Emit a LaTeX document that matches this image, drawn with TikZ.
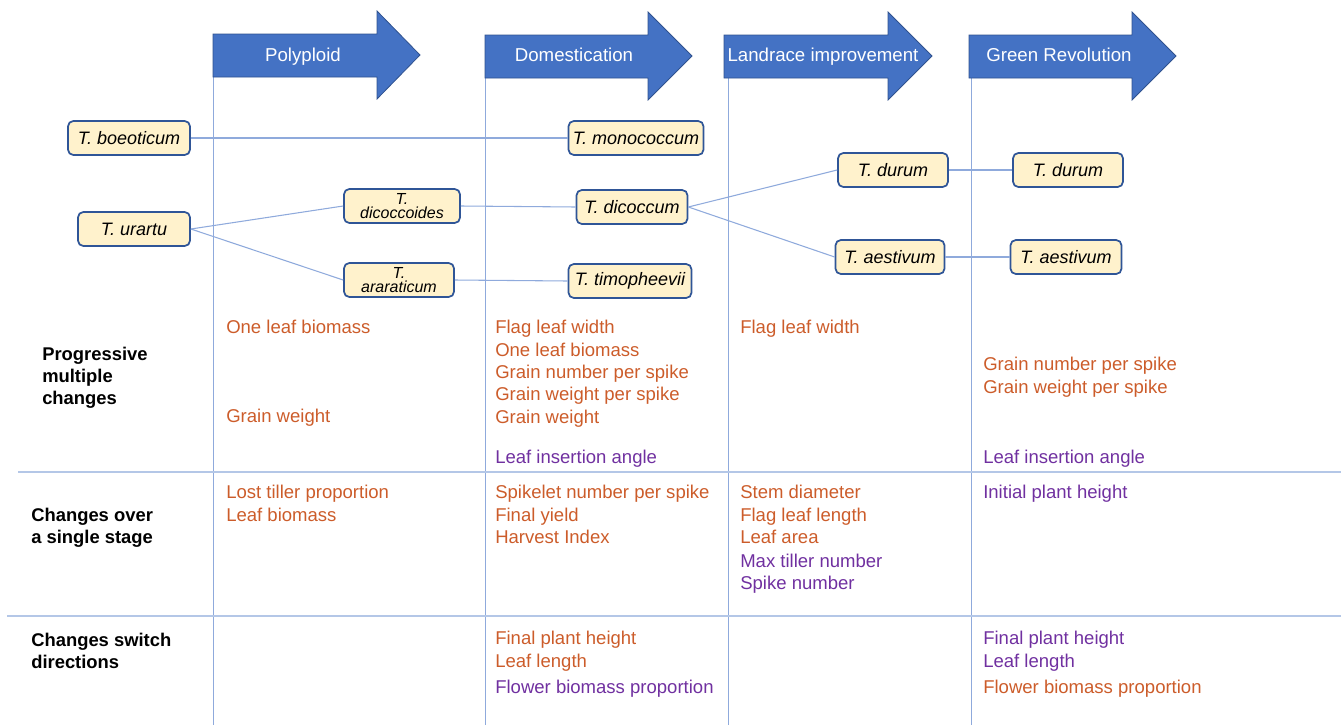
\documentclass[tikz,border=0pt]{standalone}
\usepackage{fontspec}
\setmainfont{Liberation Sans}
\definecolor{stageblue}{RGB}{68,114,196}
\definecolor{stageedge}{RGB}{47,82,143}
\definecolor{boxfill}{RGB}{255,242,204}
\definecolor{boxedge}{RGB}{47,85,151}
\definecolor{gridblue}{RGB}{143,170,220}
\definecolor{rulerblue}{RGB}{180,199,231}
\definecolor{rise}{RGB}{204,92,42}
\definecolor{fall}{RGB}{112,48,160}
\begin{document}
\begin{tikzpicture}[x=0.75pt,y=-0.75pt,
    stage/.style={fill=stageblue,draw=stageedge,line width=0.6pt},
    stagetext/.style={text=white,font=\fontsize{14}{16}\selectfont,text height=10pt,text depth=3pt},
    species/.style={draw=boxedge,line width=1.3pt,fill=boxfill,rounded corners=4pt,
      font=\fontsize{13.5}{15}\selectfont\itshape,minimum height=25.5pt,inner xsep=1pt},
    twoline/.style={species,align=center,inner ysep=1pt,font=\fontsize{12}{11}\selectfont\itshape},
    wd/.style={minimum width=#1*0.75pt},
    link/.style={draw=gridblue,line width=0.8pt},
    grid/.style={draw=gridblue,line width=0.6pt},
    ruler/.style={draw=rulerblue,line width=1.3pt},
    trait/.style={anchor=west,inner sep=0pt,font=\fontsize{13.9}{15}\selectfont,
      text height=10pt,text depth=2pt},
    up/.style={trait,text=rise},
    down/.style={trait,text=fall},
    rowname/.style={anchor=west,inner sep=0pt,align=left,
      font=\fontsize{13.8}{16.5}\selectfont\bfseries}]
  \useasboundingbox (0,0) rectangle (1341,725);

  \draw[grid] (213,77) -- (213,725);
  \draw[grid] (485,77) -- (485,725);
  \draw[grid] (728,77) -- (728,725);
  \draw[grid] (971,77) -- (971,725);
  \draw[ruler] (18,472) -- (1341,472);
  \draw[ruler] (7,616) -- (1341,616);

  \filldraw[stage] (213,34) -- (377,34) -- (377,11) -- (420,55) -- (377,99) -- (377,77) -- (213,77) -- cycle;
  \filldraw[stage] (485,35) -- (648,35) -- (648,12) -- (692,56) -- (648,100) -- (648,78) -- (485,78) -- cycle;
  \filldraw[stage] (724,35) -- (888,35) -- (888,12) -- (932,56) -- (888,100) -- (888,78) -- (724,78) -- cycle;
  \filldraw[stage] (969,35) -- (1132,35) -- (1132,12) -- (1176,56) -- (1132,100) -- (1132,78) -- (969,78) -- cycle;
  \node[stagetext] (poly) at (303,57) {Polyploid};
  \node[stagetext] (dom) at (574,57) {Domestication};
  \node[stagetext] (land) at (823,57) {Landrace improvement};
  \node[stagetext] (green) at (1059,57) {Green Revolution};

  \node[species,wd=122] (boeo) at (129,138) {T. boeoticum};
  \node[species,wd=112] (urar) at (134,229) {T. urartu};
  \node[twoline,wd=116] (dicoi) at (402,206) {T.\\dicoccoides};
  \node[twoline,wd=110] (arar) at (399,280) {T.\\araraticum};
  \node[species,wd=135] (mono) at (636,138) {T. monococcum};
  \node[species,wd=111] (dico) at (632,207) {T. dicoccum};
  \node[species,wd=123] (timo) at (630,281) {T. timopheevii};
  \node[species,wd=110] (dur) at (893,170) {T. durum};
  \node[species,wd=109] (aes) at (890,257) {T. aestivum};
  \node[species,wd=110] (durg) at (1068,170) {T. durum};
  \node[species,wd=111] (aesg) at (1066,257) {T. aestivum};

  \draw[link] (boeo.east) -- (mono.west);
  \draw[link] (urar.east) -- (dicoi.west);
  \draw[link] (urar.east) -- (arar.west);
  \draw[link] (dicoi.east) -- (dico.west);
  \draw[link] (arar.east) -- (timo.west);
  \draw[link] (dico.east) -- (dur.west);
  \draw[link] (dico.east) -- (aes.west);
  \draw[link] (dur.east) -- (durg.west);
  \draw[link] (aes.east) -- (aesg.west);

  \node[rowname] (prog) at (42,378) {Progressive\\multiple\\changes};
  \node[rowname] (single) at (31,528) {Changes over\\a single stage};
  \node[rowname] (switch) at (31,651) {Changes switch\\directions};

  \node[up] (pa) at (226,328) {One leaf biomass};
  \node[up] (pb) at (226,417) {Grain weight};
  \node[up] (pc) at (226,493) {Lost tiller proportion};
  \node[up] (pd) at (226,516) {Leaf biomass};

  \node[up] (da) at (495,328) {Flag leaf width};
  \node[up] (db) at (495,351) {One leaf biomass};
  \node[up] (dc) at (495,373) {Grain number per spike};
  \node[up] (dd) at (495,395) {Grain weight per spike};
  \node[up] (de) at (495,418) {Grain weight};
  \node[down] (df) at (495,458) {Leaf insertion angle};
  \node[up] (dg) at (495,493) {Spikelet number per spike};
  \node[up] (dh) at (495,516) {Final yield};
  \node[up] (di) at (495,538) {Harvest Index};
  \node[up] (dj) at (495,639) {Final plant height};
  \node[up] (dk) at (495,662) {Leaf length};
  \node[down] (dl) at (495,688) {Flower biomass proportion};

  \node[up] (la) at (740,328) {Flag leaf width};
  \node[up] (lb) at (740,493) {Stem diameter};
  \node[up] (lc) at (740,516) {Flag leaf length};
  \node[up] (ld) at (740,538) {Leaf area};
  \node[down] (le) at (740,562) {Max tiller number};
  \node[down] (lf) at (740,584) {Spike number};

  \node[up] (ga) at (983,365) {Grain number per spike};
  \node[up] (gb) at (983,388) {Grain weight per spike};
  \node[down] (gc) at (983,458) {Leaf insertion angle};
  \node[down] (gd) at (983,493) {Initial plant height};
  \node[down] (ge) at (983,639) {Final plant height};
  \node[down] (gf) at (983,662) {Leaf length};
  \node[up] (gg) at (983,688) {Flower biomass proportion};
\end{tikzpicture}
\end{document}
